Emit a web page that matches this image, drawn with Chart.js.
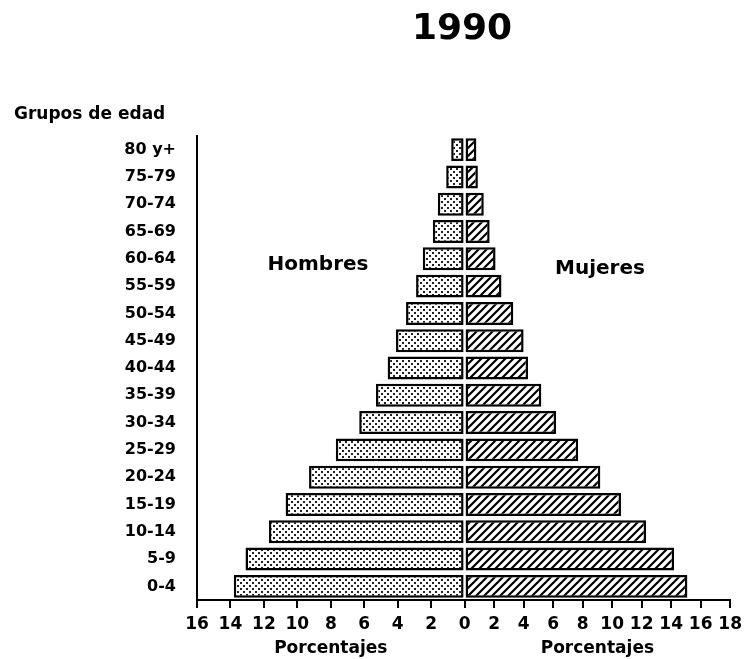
<!DOCTYPE html>
<html>
<head>
<meta charset="utf-8">
<script src="https://cdn.jsdelivr.net/npm/chart.js@4/dist/chart.umd.min.js"></script>
<style>
  html, body { margin: 0; padding: 0; background: #fff; }
  #wrap { width: 748px; height: 659px; position: relative; }
</style>
</head>
<body>
<div id="wrap"><canvas id="pyramid"></canvas></div>
<script>
// age groups, youngest first (drawn bottom to top)
const ageGroups = ['0-4', '5-9', '10-14', '15-19', '20-24', '25-29', '30-34', '35-39',
  '40-44', '45-49', '50-54', '55-59', '60-64', '65-69', '70-74', '75-79', '80 y+'];

const menPct = [13.8, 13.1, 11.7, 10.7, 9.3, 7.7, 6.3, 5.3, 4.6, 4.1, 3.5, 2.9, 2.5, 1.9, 1.6, 1.1, 0.8];
const womenPct = [15.1, 14.2, 12.3, 10.6, 9.2, 7.7, 6.2, 5.2, 4.3, 4.0, 3.3, 2.5, 2.1, 1.7, 1.3, 0.9, 0.8];

const menMax = 16;
const womenMax = 18;
const tickStep = 2;

const FONT = "'DejaVu Sans', sans-serif";

const canvas = document.getElementById('pyramid');
const ctx = canvas.getContext('2d');

// stipple fill for the men bars
function dotPattern() {
  const c = document.createElement('canvas');
  c.width = 6; c.height = 6;
  const g = c.getContext('2d');
  g.fillStyle = '#fff';
  g.fillRect(0, 0, 6, 6);
  g.fillStyle = '#222';
  g.fillRect(0, 0, 2, 2);
  g.fillRect(3, 3, 2, 2);
  return ctx.createPattern(c, 'repeat');
}

// diagonal hatch for the women bars
function hatchPattern() {
  const s = 8;
  const c = document.createElement('canvas');
  c.width = s; c.height = s;
  const g = c.getContext('2d');
  g.fillStyle = '#fff';
  g.fillRect(0, 0, s, s);
  g.strokeStyle = '#000';
  g.lineWidth = 2.2;
  g.beginPath();
  g.moveTo(0, s); g.lineTo(s, 0);
  g.moveTo(-1, 1); g.lineTo(1, -1);
  g.moveTo(s - 1, s + 1); g.lineTo(s + 1, s - 1);
  g.stroke();
  return ctx.createPattern(c, 'repeat');
}

// free text around the plot
const textPlugin = {
  id: 'pyramidText',
  afterDraw(chart) {
    const c = chart.ctx;
    c.save();
    c.fillStyle = '#000';
    c.textBaseline = 'middle';

    c.textAlign = 'center';
    c.font = `bold 36px ${FONT}`;
    c.fillText('1990', 462, 30);

    c.textAlign = 'left';
    c.font = `bold 17px ${FONT}`;
    c.textBaseline = 'alphabetic';
    c.fillText('Grupos de edad', 14, 119);

    c.textBaseline = 'middle';
    c.textAlign = 'center';
    c.font = `bold 20px ${FONT}`;
    c.fillText('Hombres', 318, 265);
    c.fillText('Mujeres', 600, 269);
    c.restore();
  }
};

const xCommon = {
  type: 'linear',
  position: 'bottom',
  stack: 'pct',
  min: 0,
  grid: { drawOnChartArea: false, drawTicks: true, tickLength: 8, color: '#000', lineWidth: 2 },
  border: { display: true, color: '#000', width: 2 },
  title: {
    display: true,
    text: 'Porcentajes',
    color: '#000',
    font: { family: FONT, size: 17, weight: 'bold' },
    padding: { top: 2, bottom: 0 }
  },
  afterFit(scale) { scale.height = 59; }
};

const tickFont = { family: FONT, size: 17, weight: 'bold' };

new Chart(canvas, {
  type: 'bar',
  data: {
    labels: ageGroups,
    datasets: [
      {
        label: 'Hombres',
        data: menPct,
        xAxisID: 'xM',
        backgroundColor: dotPattern(),
        borderColor: '#000',
        borderWidth: 2.5,
        borderSkipped: false
      },
      {
        label: 'Mujeres',
        data: womenPct,
        xAxisID: 'xF',
        backgroundColor: hatchPattern(),
        borderColor: '#000',
        borderWidth: 2.5,
        borderSkipped: false
      }
    ]
  },
  options: {
    indexAxis: 'y',
    responsive: true,
    maintainAspectRatio: false,
    animation: false,
    layout: { padding: { top: 136, right: 17, bottom: 0, left: 0 } },
    datasets: {
      bar: { grouped: false, barPercentage: 0.84, categoryPercentage: 1 }
    },
    scales: {
      xM: Object.assign({}, xCommon, {
        max: menMax,
        reverse: true,
        stackWeight: 268,
        ticks: {
          stepSize: tickStep, autoSkip: false, maxRotation: 0, padding: 6,
          color: '#000', font: tickFont
        }
      }),
      xF: Object.assign({}, xCommon, {
        max: womenMax,
        stackWeight: 266,
        ticks: {
          stepSize: tickStep, autoSkip: false, maxRotation: 0, padding: 6,
          color: '#000', font: tickFont,
          callback: (v) => (v === 0 ? '' : v)
        }
      }),
      y: {
        type: 'category',
        reverse: true,
        grid: { display: true, drawOnChartArea: false, drawTicks: false },
        border: { display: true, color: '#000', width: 2 },
        ticks: {
          padding: 21,
          color: '#000',
          font: { family: FONT, size: 16, weight: 'bold' }
        },
        afterFit(scale) { scale.width = 197; }
      }
    },
    plugins: {
      legend: { display: false },
      tooltip: { enabled: false }
    }
  },
  plugins: [textPlugin]
});
</script>
</body>
</html>
